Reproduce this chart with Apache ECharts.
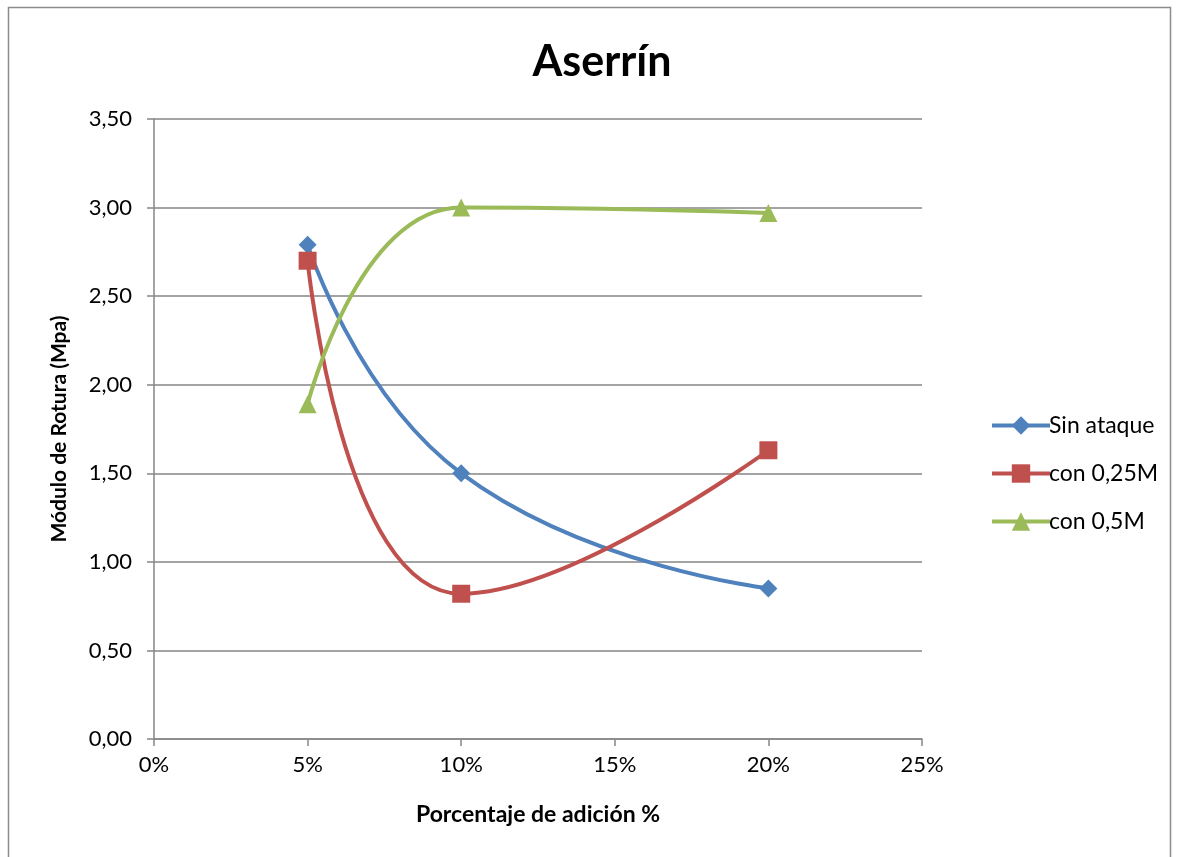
<!DOCTYPE html>
<html>
<head>
<meta charset="utf-8">
<script src="https://cdn.jsdelivr.net/npm/echarts@6/dist/echarts.min.js"></script>
<style>
  html, body { margin: 0; padding: 0; background: #fff; }
  #main { width: 1177px; height: 857px; }
</style>
</head>
<body>
<div id="main"></div>
<script>
var adicion = [0.05, 0.10, 0.20];
var sinAtaque = [2.79, 1.50, 0.85];
var con025M = [2.70, 0.82, 1.63];
var con05M = [1.89, 3.00, 2.97];
var seriesNames = ["Sin ataque", "con 0,25M", "con 0,5M"];

function pairs(values) {
  var out = [];
  for (var i = 0; i < adicion.length; i++) {
    out.push([adicion[i], values[i]]);
  }
  return out;
}

var chartDom = document.getElementById("main");
var myChart = echarts.init(chartDom, null, { renderer: "canvas" });
var font = "Lato, 'Open Sans', sans-serif";
var axisGray = "#868686";

var option = {
  animation: false,
  textStyle: { fontFamily: font },
  graphic: [
    {
      type: "rect",
      shape: { x: 8.5, y: 7.5, width: 1162, height: 860 },
      style: { fill: "none", stroke: "#8c8c8c", lineWidth: 1.5 },
      silent: true
    }
  ],
  title: {
    text: "Aserrín",
    left: 597,
    textAlign: "center",
    top: 36,
    textStyle: { fontSize: 43, fontWeight: "bold", color: "#000", fontFamily: font }
  },
  legend: {
    orient: "vertical",
    left: 985,
    top: 409,
    itemGap: 25,
    itemWidth: 58,
    itemHeight: 23,
    lineStyle: { width: 4 },
    textStyle: { fontSize: 23, color: "#000", fontFamily: font, padding: [0, 0, 0, -6] },
    data: seriesNames
  },
  grid: { left: 154, right: 255, top: 119, bottom: 118 },
  xAxis: {
    type: "value",
    min: 0,
    max: 0.25,
    interval: 0.05,
    name: "Porcentaje de adición %",
    nameLocation: "middle",
    nameGap: 64,
    nameTextStyle: { fontSize: 23, fontWeight: "bold", color: "#000", fontFamily: font },
    axisLine: { show: true, onZero: false, lineStyle: { color: axisGray, width: 1.5 } },
    axisTick: { show: true, length: 7, lineStyle: { color: axisGray, width: 1.5 } },
    axisLabel: {
      fontSize: 22, color: "#000", margin: 15, fontFamily: font,
      formatter: function (v) { return Math.round(v * 100) + "%"; }
    },
    splitLine: { show: false }
  },
  yAxis: {
    type: "value",
    min: 0,
    max: 3.5,
    interval: 0.5,
    name: "Módulo de Rotura (Mpa)",
    nameLocation: "middle",
    nameGap: 84,
    nameTextStyle: { fontSize: 21, fontWeight: "bold", color: "#000", fontFamily: font },
    axisLine: { show: true, lineStyle: { color: axisGray, width: 1.5 } },
    axisTick: { show: true, length: 7, lineStyle: { color: axisGray, width: 1.5 } },
    axisLabel: {
      fontSize: 22, color: "#000", margin: 22, fontFamily: font,
      formatter: function (v) { return v.toFixed(2).replace(".", ","); }
    },
    splitLine: { show: true, lineStyle: { color: axisGray, width: 1.5 } }
  },
  series: [
    {
      name: seriesNames[0],
      type: "line",
      smooth: 0.5,
      data: pairs(sinAtaque),
      symbol: "diamond",
      symbolSize: 18,
      color: "#4F81BD",
      lineStyle: { width: 4, color: "#4F81BD" },
      itemStyle: { color: "#4F81BD" }
    },
    {
      name: seriesNames[1],
      type: "line",
      smooth: 0.5,
      data: pairs(con025M),
      symbol: "rect",
      symbolSize: 18,
      color: "#C0504D",
      lineStyle: { width: 4, color: "#C0504D" },
      itemStyle: { color: "#C0504D" }
    },
    {
      name: seriesNames[2],
      type: "line",
      smooth: 0.5,
      data: pairs(con05M),
      symbol: "triangle",
      symbolSize: 18,
      color: "#9BBB59",
      lineStyle: { width: 4, color: "#9BBB59" },
      itemStyle: { color: "#9BBB59" }
    }
  ]
};
option && myChart.setOption(option);
</script>
</body>
</html>
